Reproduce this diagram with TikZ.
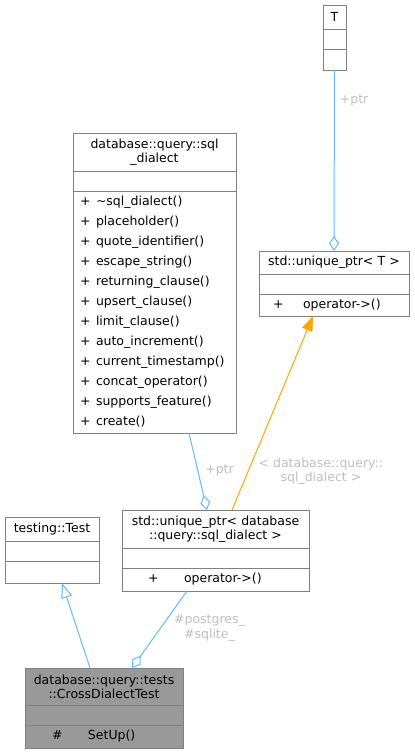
\documentclass[tikz,border=0pt]{standalone}
\usepackage{fontspec}
\setmainfont{DejaVu Sans}
\usetikzlibrary{arrows.meta,positioning}
\definecolor{edgeblue}{HTML}{63B8FF}
\definecolor{edgeorange}{HTML}{FFA500}
\definecolor{boxgray}{HTML}{808080}
\definecolor{lblgray}{HTML}{BEBEBE}
\definecolor{fillgray}{HTML}{999999}

\begin{document}
\begin{tikzpicture}[x=1pt, y=-1pt,
    row/.style={draw=boxgray, fill=white, line width=1pt, inner sep=0pt, outer sep=0pt,
      minimum width=#1, text width=#1, align=center,
      font=\fontsize{12.5}{14.3}\selectfont},
    mem/.style={row=#1, align=left, font=\fontsize{12.5}{20}\selectfont},
    lbl/.style={text=lblgray, inner sep=0pt, align=center, font=\fontsize{12.5}{14.3}\selectfont},
    link/.style={draw=edgeblue, line width=1pt},
    agg/.style={link, -{Diamond[open, fill=white, length=15pt, width=10pt]}},
    inh/.style={link, -{Triangle[open, fill=white, length=15pt, width=11pt]}},
    tpl/.style={draw=edgeorange, line width=1pt, -{Triangle[length=15pt, width=11pt]}}]
    \useasboundingbox (0,0) rectangle (415,753);

    % template parameter T
    \node[row=23pt, minimum height=24pt] (T) at (334.5,17) {T};
    \node[row=23pt, minimum height=20pt, below=0pt of T] (Tattr) {};
    \node[row=23pt, minimum height=21pt, below=0pt of Tattr] (Tmeth) {};

    % std::unique_ptr< T >
    \node[row=150pt, minimum height=23pt] (uptr) at (334,262.5) {std::unique\_ptr< T >};
    \node[row=150pt, minimum height=20pt, below=0pt of uptr] (uptrattr) {};
    \node[mem=150pt, minimum height=22pt, below=0pt of uptrattr] (uptrmeth)
      {\hspace*{14pt}\makebox[30pt][l]{+}operator->()};

    % database::query::sql_dialect
    \node[row=163pt, minimum height=38pt] (sql) at (154.5,152) {database::query::sql\\\_dialect};
    \node[row=163pt, minimum height=20pt, below=0pt of sql] (sqlattr) {};
    \node[mem=163pt, minimum height=242pt, below=0pt of sqlattr] (sqlmeth)
      {\hspace*{7pt}\makebox[16pt][l]{+}\textasciitilde sql\_dialect()\\
       \hspace*{7pt}\makebox[16pt][l]{+}placeholder()\\
       \hspace*{7pt}\makebox[16pt][l]{+}quote\_identifier()\\
       \hspace*{7pt}\makebox[16pt][l]{+}escape\_string()\\
       \hspace*{7pt}\makebox[16pt][l]{+}returning\_clause()\\
       \hspace*{7pt}\makebox[16pt][l]{+}upsert\_clause()\\
       \hspace*{7pt}\makebox[16pt][l]{+}limit\_clause()\\
       \hspace*{7pt}\makebox[16pt][l]{+}auto\_increment()\\
       \hspace*{7pt}\makebox[16pt][l]{+}current\_timestamp()\\
       \hspace*{7pt}\makebox[16pt][l]{+}concat\_operator()\\
       \hspace*{7pt}\makebox[16pt][l]{+}supports\_feature()\\
       \hspace*{7pt}\makebox[16pt][l]{+}create()};

    % testing::Test
    \node[row=94pt, minimum height=24pt] (test) at (52,529) {testing::Test};
    \node[row=94pt, minimum height=20pt, below=0pt of test] (testattr) {};
    \node[row=94pt, minimum height=22pt, below=0pt of testattr] (testmeth) {};

    % std::unique_ptr< database::query::sql_dialect >
    \node[row=187pt, minimum height=38pt] (uptrdb) at (215.5,529) {std::unique\_ptr< database\\::query::sql\_dialect >};
    \node[row=187pt, minimum height=20pt, below=0pt of uptrdb] (uptrdbattr) {};
    \node[mem=187pt, minimum height=23pt, below=0pt of uptrdbattr] (uptrdbmeth)
      {\hspace*{26pt}\makebox[36pt][l]{+}operator->()};

    % database::query::tests::CrossDialectTest
    \node[row=158pt, minimum height=37pt, fill=fillgray] (cross) at (104,686.5) {database::query::tests\\::CrossDialectTest};
    \node[row=158pt, minimum height=20pt, fill=fillgray, below=0pt of cross] (crossattr) {};
    \node[mem=158pt, minimum height=23pt, fill=fillgray, below=0pt of crossattr] (crossmeth)
      {\hspace*{27pt}\makebox[36pt][l]{\#}SetUp()};

    % relations
    \draw[agg] (Tmeth.south) -- (uptr.north)
      node[lbl, pos=0.17, right=5pt] {+ptr};
    \draw[agg] ([xshift=34.5pt]sqlmeth.south) -- ([xshift=-8.5pt]uptrdb.north)
      node[lbl, pos=0.49, right=7pt] {+ptr};
    \draw[tpl] ([xshift=16.5pt]uptrdb.north) -- ([xshift=-21pt]uptrmeth.south)
      node[lbl, pos=0.2, right=10pt] {< database::query::\\sql\_dialect >};
    \draw[inh] ([xshift=-14pt]cross.north) -- ([xshift=10pt]testmeth.south);
    \draw[agg] ([xshift=-28.5pt]uptrdbmeth.south) -- ([xshift=28pt]cross.north)
      node[lbl, pos=0.48, right=13pt] {\#postgres\_\\\#sqlite\_};
\end{tikzpicture}
\end{document}
